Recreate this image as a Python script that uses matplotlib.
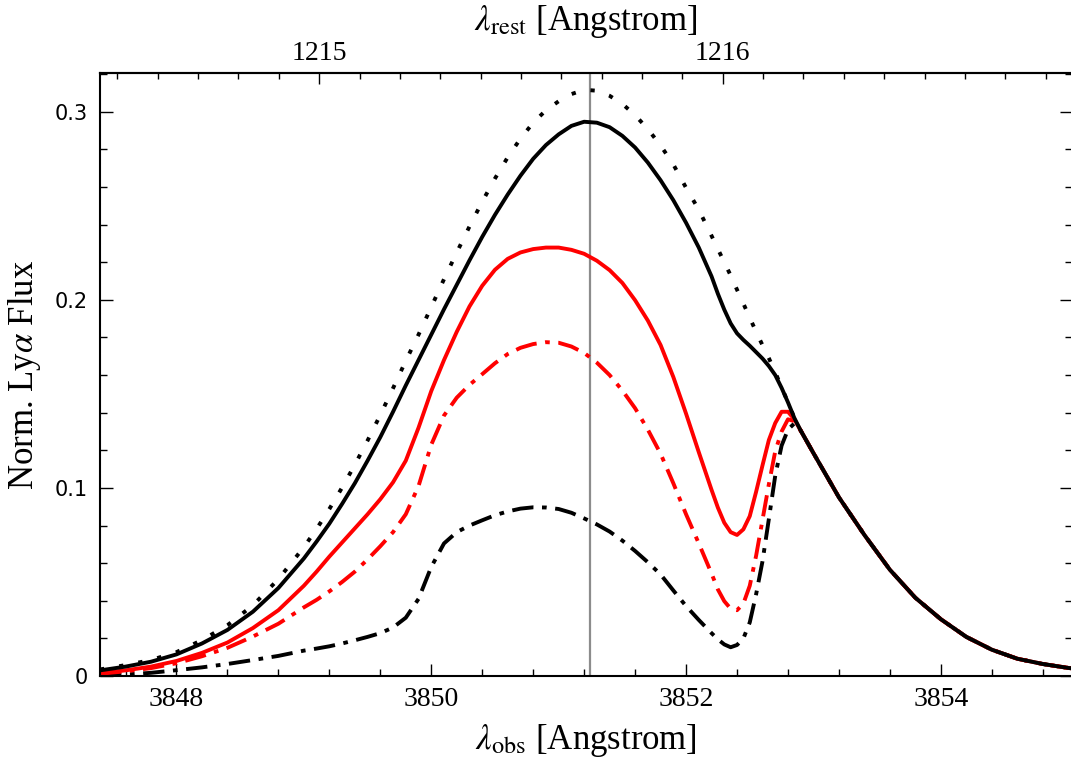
import matplotlib
matplotlib.use("Agg")
import matplotlib.pyplot as plt
from matplotlib.ticker import MultipleLocator, FixedLocator, FormatStrFormatter, FuncFormatter

plt.rcParams['font.family'] = ['Liberation Serif', 'DejaVu Serif']
plt.rcParams['mathtext.fontset'] = 'stix'

# observed-frame wavelength grid [Angstrom]
wl = [3847.40, 3847.60, 3847.80, 3848.00, 3848.20, 3848.40, 3848.60, 3848.80,
      3849.00, 3849.10, 3849.20, 3849.30, 3849.40, 3849.50, 3849.60, 3849.70,
      3849.80, 3849.90,
      3850.00, 3850.10, 3850.20, 3850.30, 3850.40, 3850.50, 3850.60, 3850.70,
      3850.80, 3850.90,
      3851.00, 3851.10, 3851.20, 3851.30, 3851.40, 3851.50, 3851.60, 3851.70,
      3851.80, 3851.90,
      3852.00, 3852.10,
      3852.20, 3852.25, 3852.30, 3852.35, 3852.40, 3852.45, 3852.50, 3852.55,
      3852.60, 3852.65, 3852.70, 3852.75, 3852.80, 3852.85, 3852.90, 3852.95,
      3853.00,
      3853.20, 3853.40, 3853.60, 3853.80, 3854.00, 3854.20, 3854.40, 3854.60,
      3854.80, 3855.00, 3855.10]

# red wing, identical for all profiles
tail = [0.0950, 0.0750, 0.0565, 0.0416, 0.0302, 0.0208, 0.0140, 0.0092,
        0.0064, 0.0043, 0.0036]

# intrinsic profile (dotted)
flux_intr = [0.0035, 0.0058, 0.0085, 0.0127, 0.0191, 0.0270, 0.0376, 0.0515,
             0.0685, 0.0782, 0.0888, 0.1002, 0.1123, 0.1252, 0.1388, 0.1530,
             0.1676, 0.1815,
             0.1962, 0.2110, 0.2252, 0.2390, 0.2522, 0.2645, 0.2758, 0.2857,
             0.2942, 0.3008,
             0.3056, 0.3094, 0.3117, 0.3112, 0.3085, 0.3042, 0.2982, 0.2908,
             0.2821, 0.2720,
             0.2596, 0.2479,
             0.2341, 0.2270, 0.2200, 0.2130, 0.2054, 0.1980, 0.1905, 0.1830,
             0.1759, 0.1690, 0.1615, 0.1535, 0.1455, 0.1372, 0.1305, 0.1245,
             0.1185] + tail

# black solid
flux_a = [0.0030, 0.0050, 0.0076, 0.0115, 0.0173, 0.0245, 0.0342, 0.0468,
          0.0625, 0.0715, 0.0810, 0.0915, 0.1025, 0.1145, 0.1270, 0.1405,
          0.1545, 0.1680,
          0.1815, 0.1950, 0.2080, 0.2210, 0.2335, 0.2452, 0.2560, 0.2660,
          0.2750, 0.2823,
          0.2880, 0.2925, 0.2947, 0.2942, 0.2918, 0.2872, 0.2810, 0.2730,
          0.2636, 0.2530,
          0.2410, 0.2278,
          0.2125, 0.2032, 0.1948, 0.1875, 0.1822, 0.1787, 0.1756, 0.1722,
          0.1688, 0.1648, 0.1600, 0.1532, 0.1455, 0.1372, 0.1305, 0.1245,
          0.1185] + tail

# red solid
flux_b = [0.0015, 0.0030, 0.0050, 0.0080, 0.0123, 0.0178, 0.0255, 0.0350,
          0.0480, 0.0555, 0.0635, 0.0710, 0.0785, 0.0860, 0.0940, 0.1030,
          0.1145, 0.1320,
          0.1515, 0.1680, 0.1830, 0.1965, 0.2075, 0.2160, 0.2218, 0.2252,
          0.2270, 0.2278,
          0.2278, 0.2266, 0.2245, 0.2208, 0.2158, 0.2090, 0.1998, 0.1890,
          0.1760, 0.1590,
          0.1395, 0.1190,
          0.0990, 0.0895, 0.0815, 0.0765, 0.0750, 0.0780, 0.0850, 0.0980,
          0.1120, 0.1255, 0.1345, 0.1405, 0.1405, 0.1365, 0.1305, 0.1245,
          0.1185] + tail

# red dash-dot
flux_c = [0.0012, 0.0025, 0.0042, 0.0068, 0.0105, 0.0150, 0.0210, 0.0278,
          0.0365, 0.0405, 0.0450, 0.0500, 0.0555, 0.0620, 0.0690, 0.0765,
          0.0860, 0.1010,
          0.1230, 0.1385, 0.1480, 0.1548, 0.1605, 0.1663, 0.1712, 0.1745,
          0.1765, 0.1775,
          0.1772, 0.1752, 0.1718, 0.1666, 0.1600, 0.1518, 0.1424, 0.1310,
          0.1182, 0.1025,
          0.0860, 0.0705,
          0.0545, 0.0460, 0.0398, 0.0358, 0.0350, 0.0385, 0.0480, 0.0640,
          0.0830, 0.1020, 0.1195, 0.1300, 0.1365, 0.1355, 0.1305, 0.1245,
          0.1185] + tail

# black dash-dot
flux_d = [0.0004, 0.0008, 0.0017, 0.0031, 0.0046, 0.0064, 0.0085, 0.0107,
          0.0135, 0.0146, 0.0158, 0.0173, 0.0190, 0.0208, 0.0228, 0.0258,
          0.0310, 0.0410,
          0.0580, 0.0705, 0.0765, 0.0800, 0.0828, 0.0855, 0.0875, 0.0890,
          0.0897, 0.0896,
          0.0888, 0.0868, 0.0838, 0.0806, 0.0768, 0.0720, 0.0665, 0.0605,
          0.0540, 0.0455,
          0.0372, 0.0298,
          0.0228, 0.0195, 0.0168, 0.0153, 0.0165, 0.0200, 0.0285, 0.0435,
          0.0610, 0.0835, 0.1065, 0.1225, 0.1310, 0.1343, 0.1305, 0.1245,
          0.1185] + tail

rest_ticks = [1215, 1216]
one_plus_z = 3.168
lya_rest = 1215.67

fig = plt.figure(figsize=(10.71, 7.60), dpi=100)
ax = fig.add_axes([0.0934, 0.1105, 0.9076, 0.7934])

lw = 2.8
ax.axvline(lya_rest * one_plus_z, color='#8c8c8c', lw=1.6, zorder=1)
ax.plot(wl, flux_intr, color='black', lw=lw, linestyle=(0, (1.1, 3.9)))
ax.plot(wl, flux_d, color='black', lw=lw, linestyle=(0, (5.5, 2.2, 1.2, 2.2)))
ax.plot(wl, flux_c, color='#ff0000', lw=lw, linestyle=(0, (5.5, 2.2, 1.2, 2.2)))
ax.plot(wl, flux_b, color='#ff0000', lw=lw)
ax.plot(wl, flux_a, color='black', lw=lw)

ax.set_xlim(3847.4, 3855.03)
ax.set_ylim(0, 0.3206)

for s in ax.spines.values():
    s.set_linewidth(1.5)

ax.xaxis.set_major_locator(MultipleLocator(2))
ax.xaxis.set_minor_locator(MultipleLocator(0.4))
ax.xaxis.set_major_formatter(FormatStrFormatter('%d'))
ax.yaxis.set_major_locator(MultipleLocator(0.1))
ax.yaxis.set_minor_locator(MultipleLocator(0.02))
ax.yaxis.set_major_formatter(FuncFormatter(lambda v, p: '%g' % round(v, 2)))

ax.tick_params(which='both', direction='in', top=False, right=True,
               width=1.0, color='black')
ax.tick_params(which='major', length=9)
ax.tick_params(which='minor', length=5)
ax.tick_params(axis='x', labelsize=20, pad=8)
ax.tick_params(axis='y', labelsize=15, pad=9, labelfontfamily='DejaVu Sans')

sec = ax.secondary_xaxis('top', functions=(lambda x: x / one_plus_z,
                                           lambda x: x * one_plus_z))
sec.xaxis.set_major_locator(FixedLocator(rest_ticks))
sec.xaxis.set_minor_locator(MultipleLocator(0.1))
sec.xaxis.set_major_formatter(FormatStrFormatter('%d'))
sec.tick_params(which='both', direction='in', width=1.0, labelsize=20, pad=5)
sec.tick_params(which='major', length=8)
sec.tick_params(which='minor', length=4)
sec.spines['top'].set_linewidth(1.5)

fig.text(0.5468, 0.972, r'$\lambda_{\rm rest}$ [Angstrom]', fontsize=25,
         ha='center', va='center')
ax.set_xlabel(r'$\lambda_{\rm obs}$ [Angstrom]', fontsize=25, labelpad=7)
ax.set_ylabel(r'Norm. Ly$\alpha$ Flux', fontsize=25, labelpad=8)

fig.savefig('out.png', dpi=100)
